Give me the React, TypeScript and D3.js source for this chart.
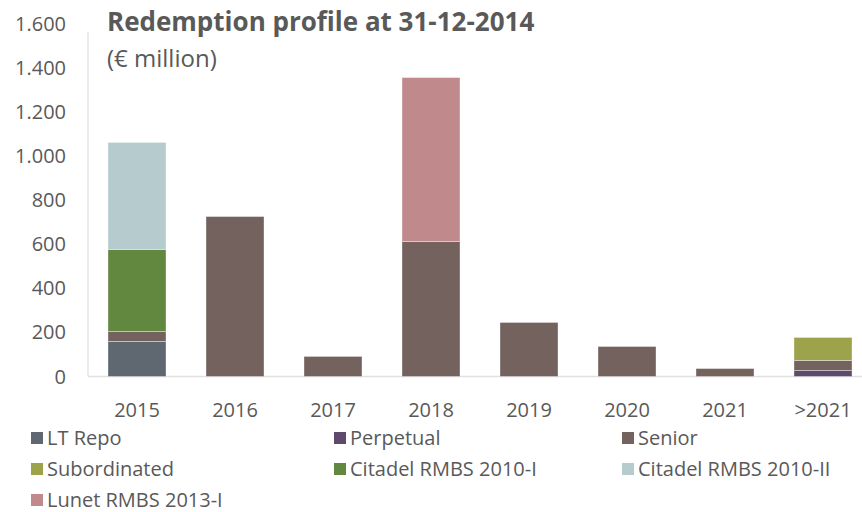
import React from "react";
import * as d3 from "d3";

const categories = ["2015", "2016", "2017", "2018", "2019", "2020", "2021", ">2021"];
const seriesNames = ["LT Repo", "Perpetual", "Senior", "Subordinated", "Citadel RMBS 2010-I", "Citadel RMBS 2010-II", "Lunet RMBS 2013-I"];
const seriesColors = ["#5f6770", "#5e4a6b", "#73625e", "#9da34a", "#62873f", "#b5cbce", "#c08a8c"];
const ltRepo = [159, 0, 0, 0, 0, 0, 0, 0];
const perpetual = [0, 0, 0, 0, 0, 0, 0, 27];
const senior = [45, 725, 91, 612, 245, 136, 36, 46];
const subordinated = [0, 0, 0, 0, 0, 0, 0, 104];
const citadel1 = [372, 0, 0, 0, 0, 0, 0, 0];
const citadel2 = [485, 0, 0, 0, 0, 0, 0, 0];
const lunet = [0, 0, 0, 743, 0, 0, 0, 0];
const yTicks = [0, 200, 400, 600, 800, 1000, 1200, 1400, 1600];

const W = 862, H = 512;
const FONT = "'Open Sans', sans-serif";
const TXT = "#595959";

export default function App() {
  const seriesValues = [ltRepo, perpetual, senior, subordinated, citadel1, citadel2, lunet];
  const rows = categories.map((c, i) => {
    const r: any = { cat: c };
    seriesNames.forEach((s, j) => (r[s] = seriesValues[j][i]));
    return r;
  });
  const stack = d3.stack<any>().keys(seriesNames)(rows);
  const x = d3.scaleBand().domain(categories).range([88, 872]).paddingInner(0.408).paddingOuter(0.204);
  const y = d3.scaleLinear().domain([0, 1600]).range([376.5, 23.5]);
  const fmt = (v: number) => d3.format(",")(v).replace(/,/g, ".");

  const legendCols = [31, 334, 622];
  const legendRows = [438, 469, 500];

  return (
    <svg width={W} height={H} style={{ position: "absolute", left: 0, top: 0, background: "#fff" }}>
      <line x1={88} x2={88} y1={32} y2={376.5} stroke="#e0e0e0" strokeWidth={1.2} />
      <line x1={88} x2={862} y1={376.5} y2={376.5} stroke="#e0e0e0" strokeWidth={1.5} />
      {yTicks.map((t) => (
        <text key={t} x={66} y={y(t)} dy="0.35em" textAnchor="end" fontFamily={FONT} fontSize={20} fill={TXT}>
          {fmt(t)}
        </text>
      ))}
      {stack.map((layer, li) => (
        <g key={layer.key} fill={seriesColors[li]}>
          {layer.map((d, i) =>
            d[1] - d[0] > 0 ? (
              <rect key={i} x={x(categories[i])} width={x.bandwidth()} y={y(d[1])} height={y(d[0]) - y(d[1])}
                stroke="#ffffff" strokeOpacity={0.45} strokeWidth={0.8} />
            ) : null
          )}
        </g>
      ))}
      {categories.map((c) => (
        <text key={c} x={(x(c) as number) + x.bandwidth() / 2} y={410} dy="0.35em" textAnchor="middle" fontFamily={FONT} fontSize={20} fill={TXT}>
          {c}
        </text>
      ))}
      <text x={107} y={31} fontFamily={FONT} fontSize={26} fontWeight="bold" fill={TXT}>Redemption profile at 31-12-2014</text>
      <text x={107} y={67} fontFamily={FONT} fontSize={24} fill={TXT}>(€ million)</text>
      {seriesNames.map((s, i) => {
        const col = legendCols[i % 3];
        const row = legendRows[Math.floor(i / 3)];
        return (
          <g key={s}>
            <rect x={col} y={row - 6} width={12} height={12} fill={seriesColors[i]} />
            <text x={col + 16} y={row} dy="0.35em" fontFamily={FONT} fontSize={20} fill={TXT}>{s}</text>
          </g>
        );
      })}
    </svg>
  );
}
